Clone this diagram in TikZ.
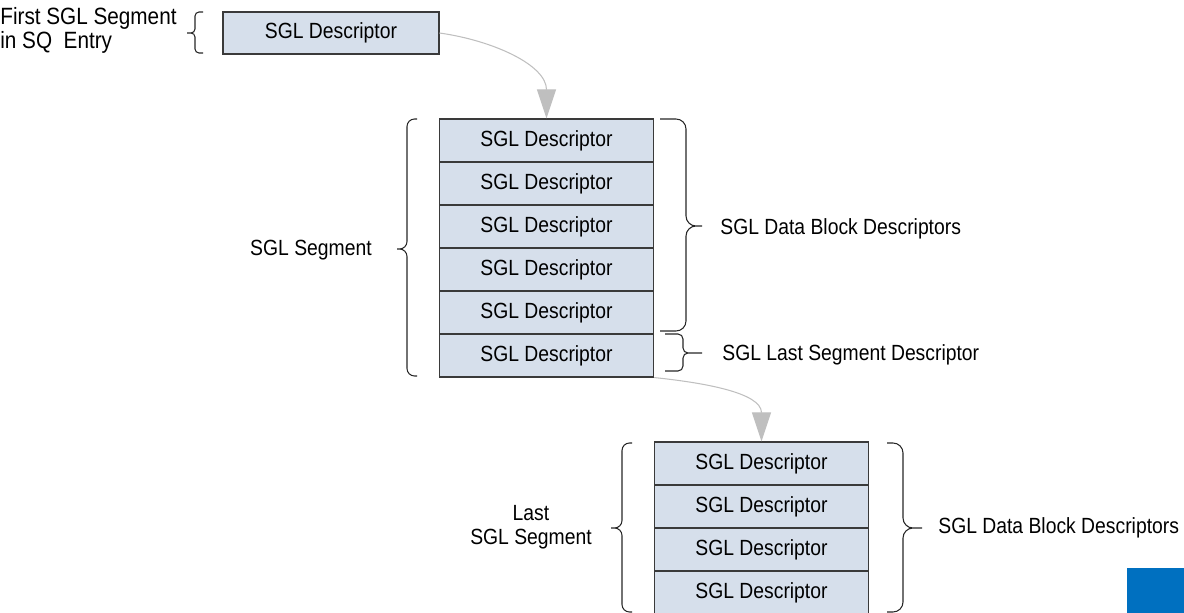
\documentclass[tikz,border=0pt]{standalone}
\usepackage{fontspec}
\setmainfont[FakeStretch=0.88]{Liberation Sans}
\usetikzlibrary{arrows.meta}
\definecolor{descfill}{HTML}{D6DFEB}
\definecolor{descline}{HTML}{3A3A3A}
\definecolor{linkgray}{HTML}{BFBFBF}
\definecolor{cornerblue}{HTML}{0070C0}

\begin{document}
\begin{tikzpicture}[scale=0.2]
\tikzstyle{every node}+=[inner sep=0pt, font=\fontsize{12.5}{13.7}\selectfont]
\tikzstyle{desc}=[draw=descline, line width=0.6pt, fill=descfill, minimum width=4.28cm, minimum height=0.86cm]
\tikzstyle{link}=[draw=linkgray, line width=0.6pt, -{Triangle[length=0.58cm,width=0.38cm]}]
\tikzstyle{brc}=[draw=black!85, line width=0.6pt]
\useasboundingbox (0,0) rectangle (118.4,-61.3);
\node [desc, minimum width=4.32cm, minimum height=0.84cm] (first) at (33.1,-3.3) {SGL Descriptor};
\node [desc] (seg1) at (54.65,-14.05) {SGL Descriptor};
\node [desc] (seg2) at (54.65,-18.35) {SGL Descriptor};
\node [desc] (seg3) at (54.65,-22.65) {SGL Descriptor};
\node [desc] (seg4) at (54.65,-26.95) {SGL Descriptor};
\node [desc] (seg5) at (54.65,-31.25) {SGL Descriptor};
\node [desc] (seg6) at (54.65,-35.55) {SGL Descriptor};
\node [desc] (last1) at (76.15,-46.35) {SGL Descriptor};
\node [desc] (last2) at (76.15,-50.65) {SGL Descriptor};
\node [desc] (last3) at (76.15,-54.95) {SGL Descriptor};
\node [desc] (last4) at (76.15,-59.25) {SGL Descriptor};
\draw [link] (first.east) to [out=-8, in=90] (seg1.north);
\draw [link] (seg6.south east) to [out=-6, in=90] (last1.north);
% braces
\draw [brc, rounded corners=0.08cm] (20.3,-1.2) -| (19.5,-3.3) -- (18.7,-3.3)
  (20.3,-5.3) -| (19.5,-3.3) -- (18.7,-3.3);
\draw [brc, rounded corners=0.15cm] (41.7,-11.9) -| (40.7,-24.9) -- (39.7,-24.9)
  (41.7,-37.6) -| (40.7,-24.9) -- (39.7,-24.9);
\draw [brc, rounded corners=0.2cm] (66.0,-11.9) -| (68.6,-22.6) -- (70.2,-22.6)
  (66.0,-33.1) -| (68.6,-22.6) -- (70.2,-22.6);
\draw [brc, rounded corners=0.1cm] (66.5,-33.4) -| (68.3,-35.3) -- (70.2,-35.3)
  (66.5,-37.1) -| (68.3,-35.3) -- (70.2,-35.3);
\draw [brc, rounded corners=0.15cm] (63.2,-44.3) -| (62.2,-52.8) -- (61.1,-52.8)
  (63.2,-61.2) -| (62.2,-52.8) -- (61.1,-52.8);
\draw [brc, rounded corners=0.2cm] (88.7,-44.3) -| (90.3,-52.8) -- (92.2,-52.8)
  (88.7,-61.2) -| (90.3,-52.8) -- (92.2,-52.8);
% labels
\node [anchor=west, align=left, font=\fontsize{13.4}{13.7}\selectfont] (firstlbl) at (0,-3.0) {First SGL Segment\\in SQ~~Entry};
\node [anchor=east] (seglbl) at (37.2,-25.0) {SGL Segment};
\node [anchor=west] (datalbl) at (72.0,-22.9) {SGL Data Block Descriptors};
\node [anchor=west] (lastseglbl) at (72.2,-35.5) {SGL Last Segment Descriptor};
\node [align=center] (lastlbl) at (53.1,-52.7) {Last\\SGL Segment};
\node [anchor=west] (lastdatalbl) at (93.8,-52.8) {SGL Data Block Descriptors};
\fill [cornerblue] (112.7,-56.8) rectangle (118.4,-61.3);
\end{tikzpicture}
\end{document}
